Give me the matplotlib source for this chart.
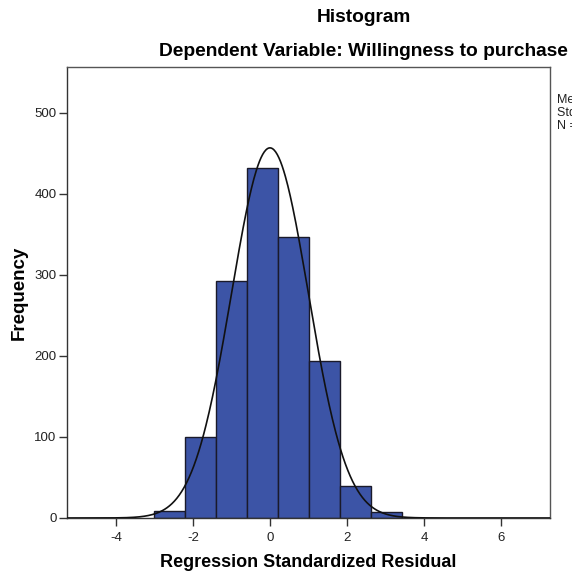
import numpy as np
import matplotlib.pyplot as plt

plt.rcParams['font.family'] = ['Liberation Sans', 'DejaVu Sans']
plt.rcParams['axes.unicode_minus'] = False

# histogram of standardized residuals
bin_start = -3.01
bin_width = 0.805
counts = [9, 100, 292, 432, 347, 194, 39, 7]

mean_val = 0.0
std_val = 0.998
n_total = sum(counts)
stat_lines = ["Mean = -1.23E-15", "Std. Dev. = 0.998", f"N = {n_total}"]

xticks = [-4, -2, 0, 2, 4, 6]
yticks = [0, 100, 200, 300, 400, 500]

edges = bin_start + bin_width * np.arange(len(counts) + 1)

fig = plt.figure(figsize=(5.72, 5.76), dpi=100)
ax = fig.add_axes([0.117, 0.1007, 0.8446, 0.783])

ax.bar(edges[:-1], counts, width=bin_width, align='edge',
       color='#3c54a6', edgecolor='#1a1a2a', linewidth=1.0, zorder=2)

xs = np.linspace(-5.3, 7.3, 600)
pdf = n_total * bin_width / (std_val * np.sqrt(2 * np.pi)) * np.exp(-0.5 * ((xs - mean_val) / std_val) ** 2)
ax.plot(xs, pdf, color='#111111', lw=1.2, zorder=3)

ax.set_xlim(-5.27, 7.27)
ax.set_ylim(0, 556.8)
ax.set_xticks(xticks)
ax.set_yticks(yticks)
ax.tick_params(axis='both', direction='out', length=6, width=1, colors='#333333',
               labelsize=9.5, labelcolor='#222222', pad=1.5)
ax.tick_params(axis='x', pad=4)
for side in ax.spines.values():
    side.set_color('#555555')
    side.set_linewidth(1.0)
ax.spines['left'].set_color('#333333')
ax.spines['bottom'].set_color('#333333')

ax.set_xlabel('Regression Standardized Residual', fontsize=13, fontweight='bold', labelpad=7)
ax.set_ylabel('Frequency', fontsize=13.5, fontweight='bold', labelpad=5)

fig.text(364 / 572, 1 - 18 / 576, 'Histogram', ha='center', va='center',
         fontsize=13.8, fontweight='bold')
fig.text(363 / 572, 1 - 52 / 576, 'Dependent Variable: Willingness to purchase',
         ha='center', va='center', fontsize=13.8, fontweight='bold')

for i, line in enumerate(stat_lines):
    fig.text(557 / 572, 1 - (100 + 13 * i) / 576, line, ha='left', va='center',
             fontsize=9, color='#222222')

fig.savefig('out.png', dpi=100)
